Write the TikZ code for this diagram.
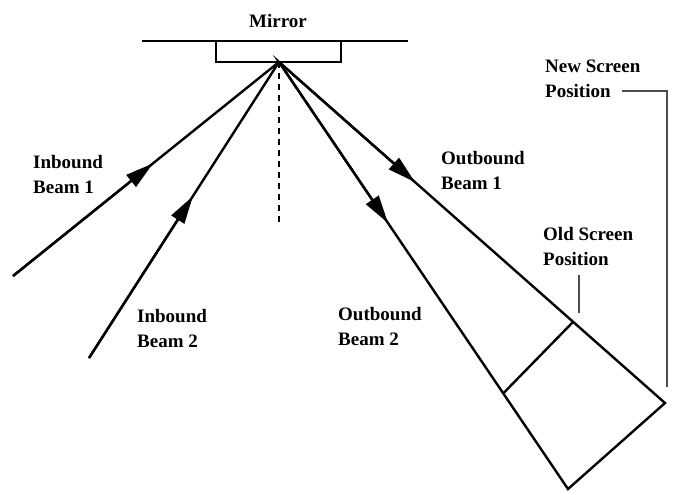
\documentclass[tikz,border=0pt]{standalone}
\usepackage{fontspec}
\setmainfont{Liberation Serif}
\usetikzlibrary{arrows.meta,calc}
\begin{document}
\begin{tikzpicture}[x=1pt,y=-1pt,
  lbl/.style={font=\bfseries\fontsize{19}{24.5}\selectfont, align=left, anchor=base west, inner sep=0pt},
  beam/.style={line width=2.4pt},
  arr/.style={line width=2.4pt, -{Triangle[length=28pt,width=15pt]}},
  leader/.style={line width=1.4pt, draw=black!70}]
\useasboundingbox (0,0) rectangle (675,491);
% mirror
\coordinate (mL) at (142,41);
\coordinate (mR) at (408,41);
\draw[line width=2.8pt] (mL) -- (mR);
\draw[line width=2.5pt] (216,41) rectangle (341,62);
\node[font=\bfseries\fontsize{19}{24}\selectfont, anchor=base, inner sep=0pt] (mirror) at (278,27) {Mirror};
\coordinate (apex) at (279,62);
\coordinate (normal) at (279,225);
\draw[line width=1.4pt, dash pattern=on 6pt off 5pt] (apex) -- (normal);
% inbound beams
\coordinate (in1) at (13,276);
\coordinate (in2) at (89,358);
\draw[beam] (in1) -- (apex);
\draw[beam] (in2) -- (apex);
\draw[arr] (in1) -- ($(in1)!0.526!(apex)$);
\draw[arr] (in2) -- ($(in2)!0.547!(apex)$);
% outbound beams
\coordinate (out1) at (665,403);
\coordinate (out2) at (568,489);
\draw[beam, line join=miter] (apex) -- (out1) -- (out2) -- cycle;
\draw[arr] (apex) -- ($(apex)!0.352!(out1)$);
\draw[arr] (apex) -- ($(apex)!0.377!(out2)$);
% old screen
\coordinate (os1) at ($(apex)!0.762!(out1)$);
\coordinate (os2) at ($(apex)!0.776!(out2)$);
\draw[beam] (os2) -- (os1);
% labels
\node[lbl] (ib1) at (33,193) {Inbound\\Beam 1};
\node[lbl] (ib2) at (137,347) {Inbound\\Beam 2};
\node[lbl] (ob1) at (441,189) {Outbound\\Beam 1};
\node[lbl] (ob2) at (338,345) {Outbound\\Beam 2};
\node[lbl] (old) at (543,265) {Old Screen\\Position};
\node[lbl] (new) at (545,97) {New Screen\\Position};
% leaders
\coordinate (oldA) at (579,275);
\coordinate (oldB) at (579,313);
\draw[leader] (oldA) -- (oldB);
\coordinate (newA) at (622,91);
\coordinate (newB) at (667,91);
\coordinate (newC) at (667,387);
\draw[leader] (newA) -- (newB) -- (newC);
\end{tikzpicture}
\end{document}
